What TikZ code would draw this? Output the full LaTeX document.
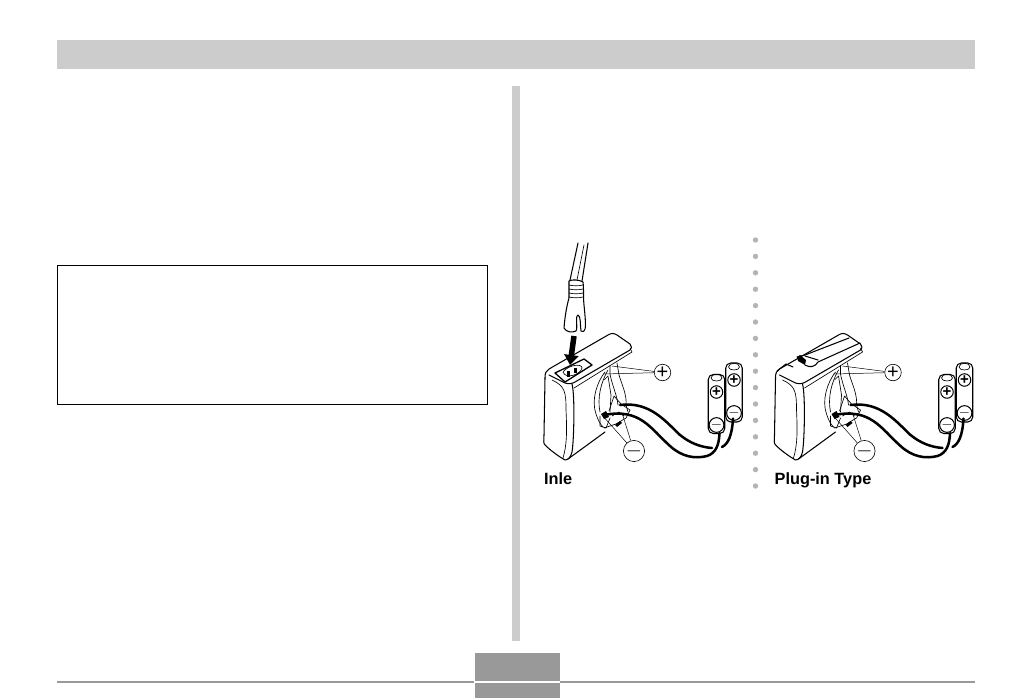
\documentclass[tikz,border=0pt]{standalone}
\usepackage{amsmath}
\usepackage{fontspec}
\usepackage{xcolor}
\usetikzlibrary{arrows.meta}
\setmainfont{Liberation Sans}
\definecolor{barGray}{HTML}{CCCCCC}
\definecolor{footGray}{HTML}{999999}
\definecolor{dotGray}{HTML}{B4B4B4}
\tikzset{
  outline/.style={draw=black,line width=1.05pt,line join=round,line cap=round},
  thin outline/.style={draw=black,line width=0.65pt,line join=round,line cap=round},
  wire/.style={draw=black,line width=2.5pt,line cap=round},
  pointer/.style={draw=black,line width=0.5pt},
  sign/.style={circle,draw=black,line width=0.6pt,fill=white,minimum size=16.5pt,inner sep=0pt,font=\fontsize{20}{20}\selectfont},
  battery/.style={rectangle,rounded corners=5pt,draw=black,line width=1.05pt,fill=white,minimum width=16.5pt,minimum height=59pt,inner sep=0pt},
  cell sign/.style={circle,draw=black,line width=1pt,minimum size=12.5pt,inner sep=0pt,font=\fontsize{15}{15}\selectfont\bfseries},
  caption/.style={anchor=base west,inner sep=0pt,font=\fontsize{16.3}{16.3}\selectfont\bfseries}
}
\begin{document}
\begin{tikzpicture}[x=1pt,y=-1pt]
  \useasboundingbox (0,0) rectangle (1032,698);
  % page furniture
  \fill[barGray] (57,40) rectangle (975,69);
  \fill[barGray] (512,86) rectangle (520,640.5);
  \draw[black,line width=1.2pt] (57.6,265.6) rectangle (487.4,404.4);
  \draw[footGray,line width=1.5pt] (57,682) -- (975,682);
  \fill[footGray] (475,653) rectangle (560,698);
  \draw[white,line width=2pt] (474,682) -- (560,682);
  % dotted divider
  \foreach \y in {0,...,15}
    \fill[dotGray] (755.5,240+16.4*\y) circle (2.7);

  % the two chargers
  \foreach \dx/\side in {0/l,230.5/r} {
    \begin{scope}[shift={(\dx,0)}]
      % body
      \draw[outline] (545,378) .. controls (545,373) and (546,371) .. (549,369)
        -- (608,335) .. controls (611,333) and (614,333) .. (617,335)
        -- (630,344) .. controls (632,346) and (632,349) .. (630,350)
        -- (575,382) .. controls (572,384) and (568,384) .. (565,383)
        -- (549,375);
      \draw[outline] (572,384) .. controls (575,395) and (574,440) .. (572,452)
        .. controls (571,457) and (568,460) .. (565,460)
        .. controls (558,456) and (550,450) .. (545,445)
        .. controls (543,443) and (544,440) .. (544,435) -- (545,378);
      \draw[thin outline] (552,380) .. controls (565,386) and (566,392) .. (566,410)
        .. controls (567,430) and (567,445) .. (563,458);
      \draw[outline] (568,459) -- (605,432);
      % lid underside and compartment
      \draw[thin outline] (574,388) -- (632,352) -- (630,348);
      \draw[thin outline] (605,372) .. controls (597,382) and (591,400) .. (596,414)
        .. controls (598,420) and (600,424) .. (603,427);
      \draw[thin outline] (608,370) .. controls (601,382) and (597,398) .. (600,412);
      \draw[thin outline] (604,380) -- (608,376) -- (611,395) -- (610,412);
      \draw[thin outline] (617,363) -- (619,375) .. controls (622,385) and (627,395) .. (626,405) -- (628,412);
      \draw[thin outline] (610,366) -- (610,374) .. controls (612,385) and (617,395) .. (618,405);
      \draw[thin outline] (609,411) -- (614,396) -- (621,404) -- (630,410) -- (626,418) -- (616,424) -- (604,428);
      \draw[thin outline] (600,416) -- (600,426) -- (606,428) -- (610,418);
      \draw[thin outline] (612,416) -- (619,412) -- (624,416);
      \fill[black] (615,425) -- (620,421) -- (622,423) -- (617,427) -- cycle;
      \fill[black] (601,414) -- (606,411) -- (609,417) -- (604,419) -- cycle;
      % batteries
      \node[battery] (batA\side) at (716.5,404) {};
      \node[battery] (batB\side) at (734,392.5) {};
      \draw[thin outline] (711,378) .. controls (711,373) and (722,373) .. (722,378) .. controls (722,382) and (711,382) .. (711,378);
      \draw[thin outline] (728.5,367) .. controls (728.5,362) and (739.5,362) .. (739.5,367) .. controls (739.5,371) and (728.5,371) .. (728.5,367);
      \node[cell sign] (plusA\side) at (716.5,392) {+};
      \node[cell sign] (minusA\side) at (716.5,425) {\(-\)};
      \node[cell sign] (plusB\side) at (734,380) {+};
      \node[cell sign] (minusB\side) at (734,413) {\(-\)};
      % wires
      \coordinate (wireA\side) at (604,415);
      \coordinate (wireB\side) at (620,405);
      \coordinate (wireC\side) at (712,448);
      \coordinate (wireD\side) at (722,447);
      \draw[wire] (wireB\side) .. controls (650,401) and (666,422) .. (680,435)
        .. controls (690,443) and (700,447) .. (wireC\side);
      \draw[wire] (wireD\side) .. controls (728,444) and (732,436) .. ([xshift=-1pt,yshift=4pt]batB\side.south);
      \draw[wire] (wireA\side) .. controls (640,408) and (650,428) .. (670,446)
        .. controls (682,457) and (695,459) .. (707,456)
        .. controls (716,453) and (719,445) .. ([xshift=3pt,yshift=1pt]batA\side.south);
      % polarity marks
      \node[sign] (plus\side) at (662.5,372.5) {+};
      \node[sign] (minus\side) at (634,451) {\(-\)};
      \coordinate (plusTop\side) at (612,366);
      \coordinate (plusLow\side) at (603,374);
      \coordinate (minusLeft\side) at (602,415);
      \coordinate (minusRight\side) at (622,413);
      \draw[pointer] (plus\side) -- (plusTop\side);
      \draw[pointer] (plus\side) -- (plusLow\side);
      \draw[pointer] (minus\side) -- (minusLeft\side);
      \draw[pointer] (minus\side) -- (minusRight\side);
    \end{scope}
  }

  % inlet socket, plug and arrow
  \draw[outline,line width=1.3pt] (555,373) -- (584,359) -- (592,365) -- (565,382) -- cycle;
  \draw[thin outline] (563,372) .. controls (568,365) and (582,363) .. (582,368) .. controls (581,374) and (566,380) .. (563,372);
  \fill[black] (567,371) rectangle (570,377);
  \fill[black] (574,368) rectangle (577,373);
  \draw[outline] (578,243) -- (570,280);
  \draw[outline] (588,243) -- (582,281);
  \draw[thin outline] (584,245) -- (577,280);
  \draw[outline] (569,281) .. controls (572,279) and (580,280) .. (583,282)
    .. controls (584,290) and (583,298) .. (584,305)
    .. controls (585,315) and (586,325) .. (585,329)
    .. controls (584,332) and (582,332) .. (581,331)
    .. controls (580,325) and (581,316) .. (578,315)
    .. controls (575,316) and (578,328) .. (576,331)
    .. controls (572,333) and (566,332) .. (564,328)
    .. controls (565,315) and (567,305) .. (569,298) -- cycle;
  \foreach \y in {285,289,293,297}
    \draw[thin outline] (569,\y) .. controls (573,\y+1) and (579,\y+1) .. (583,\y);
  \coordinate (arrowTail) at (574,336);
  \coordinate (arrowTip) at (570,365);
  \draw[line width=5.5pt,-{Triangle[width=14pt,length=10pt]}] (arrowTail) -- (arrowTip);

  % plug-in tab on the second charger
  \draw[outline] (777,371) -- (786,364) -- (793,367);
  \draw[outline] (797,357) -- (805,355) -- (849,338);
  \draw[outline] (805,365) .. controls (810,368) and (815,367) .. (818,362)
    -- (860,343);
  \draw[outline] (805,356) -- (818,360);
  \fill[black] (797,357) -- (800,355) -- (806,360) -- (805,365) -- (798,361) -- cycle;

  % captions
  \node[caption] (inletLabel) at (544,484) {Inle};
  \node[caption] (plugLabel) at (774.5,484) {Plug-in Type};
\end{tikzpicture}
\end{document}
